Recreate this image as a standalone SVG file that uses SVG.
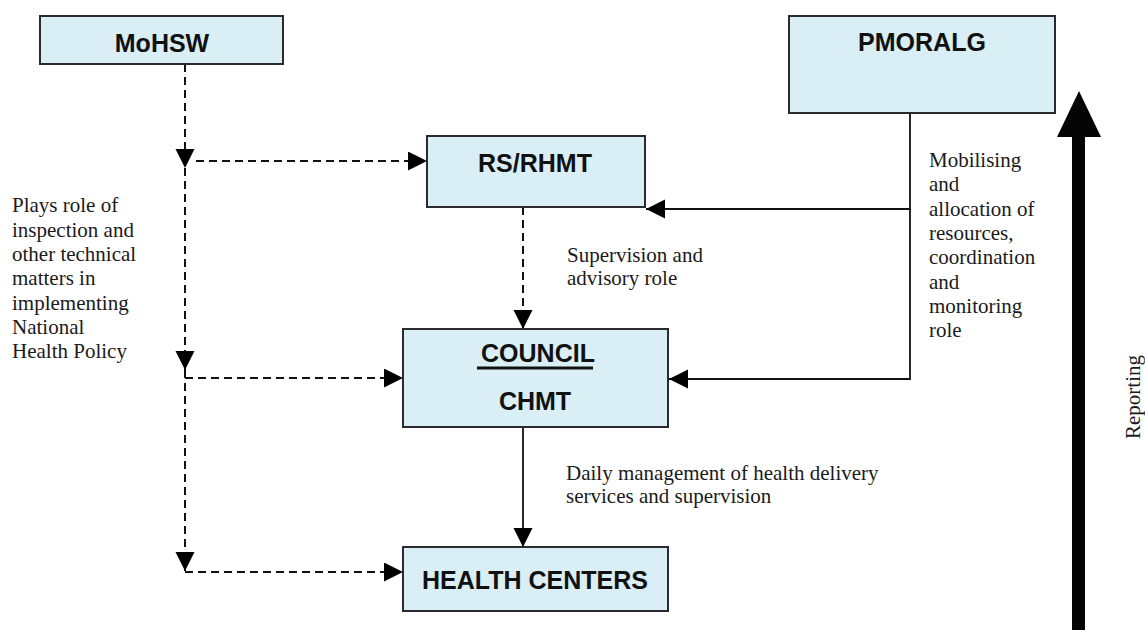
<svg xmlns="http://www.w3.org/2000/svg" width="1145" height="630" viewBox="0 0 1145 630">
<style>
.box{fill:#d9eef5;stroke:#2b2b2b;stroke-width:2}
.bt{font-family:"Liberation Sans",Arial,sans-serif;font-weight:bold;font-size:25px;fill:#111;text-anchor:middle}
.lt{font-family:"Liberation Serif","Times New Roman",serif;font-size:21px;fill:#1a1a1a}
.dash{fill:none;stroke:#111;stroke-width:2;stroke-dasharray:8 5}
.solid{fill:none;stroke:#111;stroke-width:1.8}
</style>
<defs>
<marker id="ah" markerUnits="userSpaceOnUse" markerWidth="20" markerHeight="20" refX="19" refY="9.5" orient="auto" viewBox="0 0 20 20">
<path d="M0,0 L19,9.5 L0,19 z" fill="#000"/>
</marker>
</defs>
<g id="connectors">
<path class="dash" d="M185,64 V168" marker-end="url(#ah)"/>
<path class="dash" d="M185,168 V370" marker-end="url(#ah)"/>
<path class="dash" d="M185,370 V571" marker-end="url(#ah)"/>
<path class="dash" d="M196,161 H427" marker-end="url(#ah)"/>
<path class="dash" d="M185,378 H403" marker-end="url(#ah)"/>
<path class="dash" d="M185,572 H403" marker-end="url(#ah)"/>
<path class="dash" d="M523,207 V329" marker-end="url(#ah)"/>
<path class="solid" d="M523,427 V547" marker-end="url(#ah)"/>
<path class="solid" d="M910,113 V209 H646" marker-end="url(#ah)"/>
<path class="solid" d="M910,209 V379 H669" marker-end="url(#ah)"/>
<polygon points="1072,630 1072,137 1057,137 1079,91 1101,137 1085,137 1085,630" fill="#050505"/>
</g>
<g id="MoHSW">
<rect class="box" x="40" y="16" width="243" height="48"/>
<text class="bt" x="162" y="52">MoHSW</text>
</g>
<g id="PMORALG">
<rect class="box" x="789" y="16" width="266" height="97"/>
<text class="bt" x="922" y="51">PMORALG</text>
</g>
<g id="RSRHMT">
<rect class="box" x="427" y="136" width="218" height="71"/>
<text class="bt" x="535" y="172">RS/RHMT</text>
</g>
<g id="COUNCIL">
<rect class="box" x="403" y="329" width="265" height="98"/>
<text class="bt" x="538" y="362" font-size="24">COUNCIL</text>
<line x1="477" y1="368" x2="593" y2="368" stroke="#111" stroke-width="3"/>
<text class="bt" x="535" y="410" font-size="24">CHMT</text>
</g>
<g id="HEALTHCENTERS">
<rect class="box" x="403" y="547" width="265" height="64"/>
<text class="bt" x="535" y="589" font-size="24">HEALTH CENTERS</text>
</g>
<g id="labels">
<text class="lt" x="12"><tspan x="12" y="212">Plays role of</tspan><tspan x="12" y="236.5">inspection and</tspan><tspan x="12" y="261">other technical</tspan><tspan x="12" y="285">matters in</tspan><tspan x="12" y="309.5">implementing</tspan><tspan x="12" y="334">National</tspan><tspan x="12" y="358">Health Policy</tspan></text>
<text class="lt"><tspan x="567" y="262">Supervision and</tspan><tspan x="567" y="285">advisory role</tspan></text>
<text class="lt"><tspan x="929" y="167">Mobilising</tspan><tspan x="929" y="191.3">and</tspan><tspan x="929" y="215.6">allocation of</tspan><tspan x="929" y="239.9">resources,</tspan><tspan x="929" y="264.2">coordination</tspan><tspan x="929" y="288.5">and</tspan><tspan x="929" y="312.8">monitoring</tspan><tspan x="929" y="337">role</tspan></text>
<text class="lt"><tspan x="566" y="480">Daily management of health delivery</tspan><tspan x="566" y="503">services and supervision</tspan></text>
<text class="lt" text-anchor="middle" transform="translate(1140,397) rotate(-90)">Reporting</text>
</g>
</svg>
